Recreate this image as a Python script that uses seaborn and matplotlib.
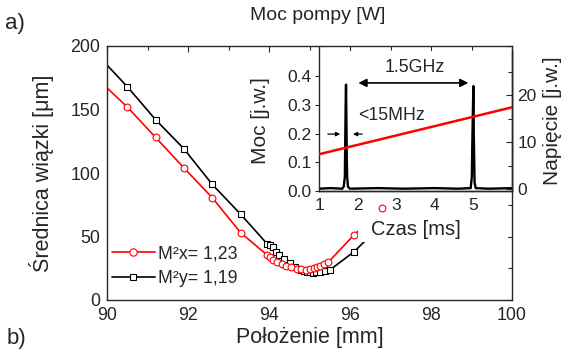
import matplotlib
matplotlib.use("Agg")
import matplotlib.pyplot as plt
import seaborn as sns
import pandas as pd
from matplotlib.lines import Line2D
from matplotlib.patches import Rectangle
from matplotlib.ticker import MultipleLocator, FixedLocator

# ---------------- data ----------------
# beam diameter vs position, x direction (red circles)
red_pos = [90.5, 91.2, 91.9, 92.6, 93.3, 93.95, 94.02, 94.1, 94.2, 94.31, 94.42,
           94.55, 94.68, 94.8, 94.92, 95.02, 95.1, 95.18, 95.26, 95.35, 95.46, 96.1]
red_diam = [152, 128, 104, 80.5, 53, 35.5, 33.5, 31.5, 30, 28.3, 27,
            25.8, 24.8, 24.2, 24, 24.2, 24.9, 25.6, 26.8, 28, 29.7, 51.2]
red_last_pos = [96.8]
red_last_diam = [72.5]
red_start_pos = [90.0]
red_start_diam = [167]

# beam diameter vs position, y direction (black squares)
blk_pos = [90.5, 91.2, 91.9, 92.6, 93.3, 93.96, 94.02, 94.09, 94.18, 94.25, 94.38,
           94.52, 94.64, 94.73, 94.8, 94.87, 94.93, 95.0, 95.09, 95.17, 95.26,
           95.38, 95.5, 96.1, 96.8]
blk_diam = [168, 142, 119, 91, 67.5, 44, 43, 41.5, 37.5, 35.4, 32,
            28.9, 26.2, 24.4, 23.5, 22.8, 22.3, 22, 21.5, 21.7, 22.3,
            22.8, 23.6, 38, 60]
blk_start_pos = [90.0]
blk_start_diam = [185]

legend_labels = ["M²x= 1,23", "M²y= 1,19"]

# inset: photodiode signal (black) and ramp voltage (red)
sig_time = [1.0, 1.3, 1.6, 1.64, 1.67, 1.69, 1.70, 1.71, 1.72, 1.73, 1.75, 1.8,
            2.5, 3.2, 4.0, 4.6, 4.93, 4.96, 4.97, 4.99, 5.0, 5.01, 5.03, 5.06, 5.4, 6.0]
sig_power = [0.008, 0.01, 0.008, 0.015, 0.05, 0.30, 0.37, 0.25, 0.11, 0.05, 0.015, 0.008,
             0.01, 0.008, 0.01, 0.008, 0.01, 0.05, 0.15, 0.30, 0.365, 0.2, 0.03, 0.01, 0.008, 0.01]
ramp_time = [1.0, 6.0]
ramp_volt = [7.4, 17.4]

main_xticks = [90, 92, 94, 96, 98, 100]
main_yticks = [0, 50, 100, 150, 200]
inset_xticks = [1, 2, 3, 4, 5]
inset_yticks = [0.0, 0.1, 0.2, 0.3, 0.4]
inset_ylabels = ["0.0", "0.1", "0.2", "0.3", "0.4"]
volt_ticks = [0, 10, 20]

# ---------------- style ----------------
sns.set_style("white")
plt.rcParams["font.family"] = ["Liberation Sans", "DejaVu Sans"]
plt.rcParams["axes.linewidth"] = 1.0

fig = plt.figure(figsize=(5.62, 3.49), dpi=100)
W, H = 562.0, 349.0

def fx(px):
    return px / W

def fy(py):
    return 1 - py / H

# main axes
ax = fig.add_axes([fx(107), fy(300), (512 - 107) / W, (300 - 46) / H])
ax.set_facecolor("white")

red_line = pd.DataFrame({"x": red_start_pos + red_pos + red_last_pos,
                         "y": red_start_diam + red_diam + red_last_diam})
blk_line = pd.DataFrame({"x": blk_start_pos + blk_pos,
                         "y": blk_start_diam + blk_diam})
sns.lineplot(data=blk_line, x="x", y="y", ax=ax, color="black", lw=1.2,
             sort=False, estimator=None, zorder=2)
sns.lineplot(data=red_line, x="x", y="y", ax=ax, color="red", lw=1.2,
             sort=False, estimator=None, zorder=2)
sns.scatterplot(x=blk_pos, y=blk_diam, ax=ax, marker="s", s=22,
                facecolor="white", edgecolor="black", linewidth=0.8, zorder=2.2)
sns.scatterplot(x=red_pos, y=red_diam, ax=ax, marker="o", s=24,
                facecolor="white", edgecolor="red", linewidth=0.8, zorder=2.2)

# white area behind the inset's labels
ax.add_patch(Rectangle((fx(358), fy(242)), (508 - 358) / W, (242 - 192) / H,
                       transform=fig.transFigure, facecolor="white",
                       edgecolor="none", zorder=2.5))
sns.scatterplot(x=red_last_pos, y=red_last_diam, ax=ax, marker="o", s=24,
                facecolor="white", edgecolor="red", linewidth=0.8, zorder=3)

ax.set_xlim(90, 100)
ax.set_ylim(0, 200)
ax.set_xticks(main_xticks)
ax.set_yticks(main_yticks)
ax.xaxis.set_minor_locator(MultipleLocator(1))
ax.yaxis.set_minor_locator(MultipleLocator(25))
ax.tick_params(which="both", direction="in", top=True, right=True,
               labelsize=12.8, pad=5, width=0.8)
ax.tick_params(which="major", length=4)
ax.tick_params(which="minor", length=3)
ax.set_xlabel("Położenie [mm]", fontsize=15.5)
ax.set_ylabel("Średnica wiązki [μm]", fontsize=15.5)
ax.xaxis.set_label_coords(0.5, -0.105)
ax.yaxis.set_label_coords(-0.13, 0.5)

handles = [
    Line2D([], [], color="red", lw=1.2, marker="o", markersize=5.3,
           markerfacecolor="white", markeredgecolor="red", markeredgewidth=0.8),
    Line2D([], [], color="black", lw=1.2, marker="s", markersize=4.8,
           markerfacecolor="white", markeredgecolor="black", markeredgewidth=0.8),
]
ax.legend(handles, legend_labels, loc="upper left", bbox_to_anchor=(0.012, 0.215),
          frameon=False, fontsize=12.8, handlelength=2.4, handletextpad=0.2,
          labelspacing=0.45, borderpad=0, borderaxespad=0)

# inset axes
ax_in = fig.add_axes([fx(319), fy(191), (512 - 319) / W, (191 - 51) / H])
ax_in.set_facecolor("white")
sns.lineplot(x=sig_time, y=sig_power, ax=ax_in, color="black", lw=1.7,
             sort=False, estimator=None)
ax_in.set_xlim(1, 6)
ax_in.set_ylim(0, 0.487)
ax_in.set_xticks(inset_xticks)
ax_in.set_yticks(inset_yticks)
ax_in.set_yticklabels(inset_ylabels)
ax_in.spines["top"].set_visible(False)
ax_in.spines["left"].set_bounds(0, 0.5)
ax_in.tick_params(axis="x", direction="in", length=3, labelsize=12.5, pad=5, width=0.8)
ax_in.tick_params(axis="y", direction="out", length=3, labelsize=12.5, pad=2.5, width=0.8)
ax_in.set_xlabel("Czas [ms]", fontsize=14.5)
ax_in.set_ylabel("Moc [j.w.]", fontsize=15)
ax_in.xaxis.set_label_coords(0.5, -0.21)
ax_in.yaxis.set_label_coords(-0.255, 0.5)

ax_in.annotate("", xy=(2.02, 0.376), xytext=(4.87, 0.376),
               arrowprops=dict(arrowstyle="<|-|>", color="black", lw=1.2,
                               mutation_scale=12, shrinkA=0, shrinkB=0))
ax_in.text(3.49, 0.428, "1.5GHz", ha="center", va="center", fontsize=12.8)
ax_in.text(2.02, 0.264, "<15MHz", ha="left", va="center", fontsize=12.8)
ax_in.annotate("", xy=(1.55, 0.198), xytext=(1.23, 0.198),
               arrowprops=dict(arrowstyle="-|>", color="black", lw=0.9,
                               mutation_scale=6, shrinkA=0, shrinkB=0))
ax_in.annotate("", xy=(1.88, 0.198), xytext=(2.12, 0.198),
               arrowprops=dict(arrowstyle="-|>", color="black", lw=0.9,
                               mutation_scale=6, shrinkA=0, shrinkB=0))

ax_v = ax_in.twinx()
sns.lineplot(x=ramp_time, y=ramp_volt, ax=ax_v, color="red", lw=1.8,
             sort=False, estimator=None)
ax_v.set_ylim(-0.43, 29.4)
ax_v.set_yticks(volt_ticks)
ax_v.yaxis.set_minor_locator(FixedLocator([5, 15, 25]))
ax_v.spines["top"].set_visible(False)
ax_v.spines["left"].set_visible(False)
ax_v.tick_params(which="both", axis="y", direction="in", labelsize=12.5, pad=4, width=0.8)
ax_v.tick_params(which="major", length=4)
ax_v.tick_params(which="minor", length=3)
ax_v.set_ylabel("Napięcie [j.w.]", fontsize=15)
ax_v.yaxis.set_label_coords(1.16, 0.5)

# figure texts
fig.text(fx(5), fy(23), "a)", va="center", ha="left", fontsize=16)
fig.text(fx(7), fy(328), "b)", va="top", ha="left", fontsize=16)
fig.text(fx(318), fy(15), "Moc pompy [W]", va="center", ha="center", fontsize=14)

fig.savefig("out.png", dpi=100)
